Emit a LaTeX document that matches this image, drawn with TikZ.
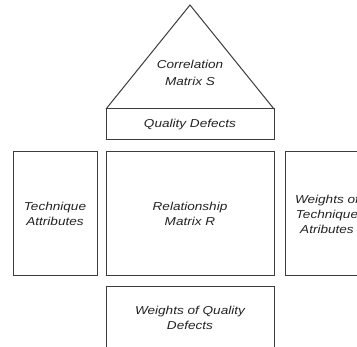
\documentclass[tikz,border=0pt]{standalone}
\usepackage{fontspec}
\setmainfont[FakeStretch=1.18]{Liberation Sans}
\definecolor{edge}{HTML}{3C3C3C}
\definecolor{txt}{HTML}{222222}
\tikzset{
  box/.style={draw=edge, line width=1pt, rectangle, inner sep=0pt, align=center,
    font=\fontsize{11.5}{15}\selectfont\itshape, text=txt},
  label/.style={inner sep=0pt, align=center, font=\fontsize{11.5}{16.5}\selectfont\itshape, text=txt}
}
\begin{document}
\begin{tikzpicture}[x=1pt,y=-1pt]
\useasboundingbox (0,0) rectangle (357,347);
\clip (0,0) rectangle (357,347);
% triangle
\coordinate (apex) at (190,5);
\coordinate (bl) at (106,109);
\coordinate (br) at (274,109);
\draw[draw=edge, line width=1pt, line join=miter] (bl) -- (apex) -- (br);
\node[label] (corr) at (190,73) {Correlation\\Matrix S};
% boxes
\node[box, minimum width=168pt, minimum height=31pt] (qd) at (190,124.5) {Quality Defects};
\node[box, minimum width=168pt, minimum height=124pt] (rel) at (190,214) {Relationship\\Matrix R};
\node[box, minimum width=84pt, minimum height=124pt] (tech) at (55,214) {Technique\\Attributes};
\node[box, minimum width=84pt, minimum height=124pt] (wta) at (327,214) {Weights of\\Technique\\Atributes};
\node[box, minimum width=168pt, minimum height=62pt] (wqd) at (190,318) {Weights of Quality\\Defects};
\end{tikzpicture}
\end{document}
